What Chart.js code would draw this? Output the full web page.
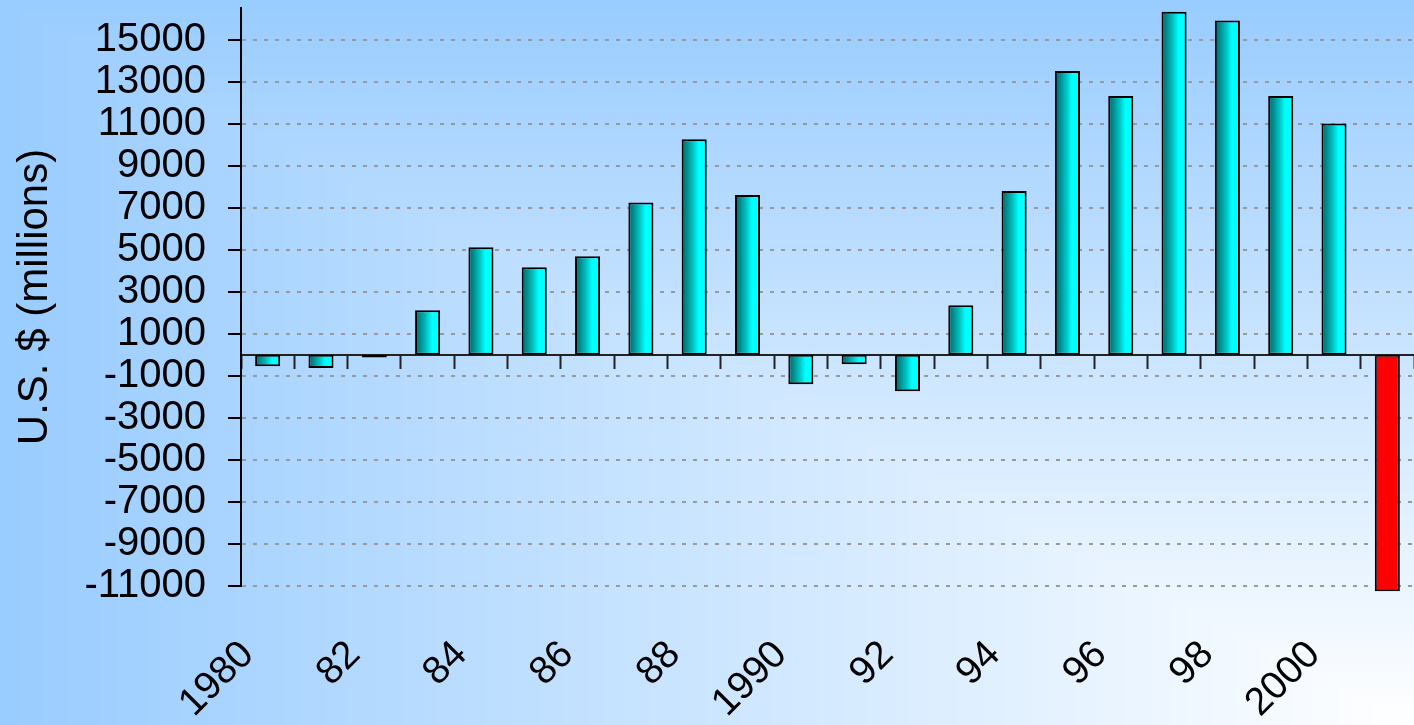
<!DOCTYPE html>
<html>
<head>
<meta charset="utf-8">
<script src="https://cdn.jsdelivr.net/npm/chart.js@4/dist/chart.umd.min.js"></script>
<style>
  html, body { margin: 0; padding: 0; overflow: hidden; }
  #wrap { position: relative; width: 1414px; height: 725px; }
  #wrap canvas { position: absolute; left: 0; top: 0; }
</style>
</head>
<body>
<div id="wrap">
  <canvas id="bg" width="1414" height="725"></canvas>
  <canvas id="myChart" width="1414" height="725"></canvas>
</div>
<script>
// data
const years = ['1980','1981','1982','1983','1984','1985','1986','1987','1988','1989','1990',
               '1991','1992','1993','1994','1995','1996','1997','1998','1999','2000','2001'];
const tickLabels = ['1980','','82','','84','','86','','88','','1990',
                    '','92','','94','','96','','98','','2000',''];
const values = [-550, -630, -130, 2120, 5120, 4170, 4690, 7250, 10260, 7600, -1400,
                -450, -1740, 2360, 7790, 13500, 12310, 16320, 15900, 12310, 11010, -11250];
const yTicks = [-11000, -9000, -7000, -5000, -3000, -1000, 1000, 3000, 5000, 7000, 9000, 11000, 13000, 15000];
const highlightYear = '2001';

const FONT = '"Liberation Sans", Arial, sans-serif';

// corner gradient behind the chart: light blue edges fading to white at bottom right
function paintBackground(){
    const c = document.getElementById('bg');
    const g = c.getContext('2d');
    const W = c.width, H = c.height;
    const img = g.createImageData(W, H);
    const from = [255, 255, 255], to = [153, 204, 255];
    for (let y = 0; y < H; y++){
        for (let x = 0; x < W; x++){
            const t = Math.min(1, Math.max((W - x) / W, (H - y) / H));
            const k = (y * W + x) * 4;
            img.data[k]   = from[0] + (to[0] - from[0]) * t;
            img.data[k+1] = from[1] + (to[1] - from[1]) * t;
            img.data[k+2] = from[2] + (to[2] - from[2]) * t;
            img.data[k+3] = 255;
        }
    }
    g.putImageData(img, 0, 0);
}

const barFill = (ctx)=>{
    const chart = ctx.chart;
    const i = ctx.dataIndex;
    if (i === undefined) return '#00ffff';
    if (years[i] === highlightYear) return '#ff0000';
    const xs = chart.scales.x;
    if (!xs || !xs.width) return '#00ffff';
    const cx = xs.getPixelForValue(i);
    const w = xs.width / years.length * 0.47;
    const grad = chart.ctx.createLinearGradient(cx - w / 2, 0, cx + w / 2, 0);
    grad.addColorStop(0, '#006666');
    grad.addColorStop(0.2, '#008c8c');
    grad.addColorStop(0.45, '#00c4c4');
    grad.addColorStop(0.68, '#00ffff');
    grad.addColorStop(1, '#00ffff');
    return grad;
}

window.addEventListener('DOMContentLoaded', (event) => {
    paintBackground();

    let info = {
        labels: years,
        datasets: [{
            label: 'U.S. $ (millions)',
            data: values,
            backgroundColor: barFill,
            borderColor: '#000000',
            borderWidth: 2,
            borderSkipped: false,
            categoryPercentage: 1,
            barPercentage: 0.47,
            clip: false
        }]
    };

    let config = {
        type: 'bar',
        data: info,
        options: {
            responsive: false,
            animation: false,
            layout: { padding: { left: 10, top: 8, right: 0, bottom: 0 } },
            plugins: { legend: { display: false }, tooltip: { enabled: false } },
            scales: {
                x: {
                    type: 'category',
                    offset: true,
                    grid: { display: false, drawTicks: false },
                    border: { display: false },
                    ticks: {
                        autoSkip: false,
                        maxRotation: 45,
                        minRotation: 45,
                        padding: 46,
                        labelOffset: -20,
                        color: '#000',
                        font: { family: FONT, size: 39 },
                        callback: (v, i) => tickLabels[i]
                    },
                    afterFit: (s) => { s.height = 139; s.paddingLeft = 0; s.paddingRight = 0; }
                },
                x2: {
                    type: 'category',
                    position: { y: 0 },
                    offset: true,
                    grid: {
                        offset: true,
                        drawOnChartArea: false,
                        drawTicks: true,
                        tickLength: 13,
                        tickWidth: 2,
                        tickColor: '#222'
                    },
                    border: { display: true, color: '#222', width: 2 },
                    ticks: { display: false, autoSkip: false },
                    afterFit: (s) => { s.paddingLeft = 0; s.paddingRight = 0; s.paddingTop = 0; s.paddingBottom = 0; }
                },
                y: {
                    min: -11000,
                    max: 16500,
                    afterBuildTicks: (s) => { s.ticks = yTicks.map(v => ({ value: v })); },
                    afterFit: (s) => { s.width = 231; s.paddingTop = 0; s.paddingBottom = 0; },
                    grid: {
                        color: '#999999',
                        lineWidth: 2,
                        drawTicks: true,
                        tickLength: 13,
                        tickColor: '#000',
                        tickWidth: 2,
                        tickBorderDash: []
                    },
                    border: { display: true, color: '#000', width: 2, dash: [4, 7] },
                    ticks: {
                        autoSkip: false,
                        padding: 22,
                        color: '#000',
                        font: { family: FONT, size: 40 },
                        callback: (v) => String(v)
                    },
                    title: {
                        display: true,
                        text: 'U.S. $ (millions)',
                        color: '#000',
                        font: { family: FONT, size: 42 },
                        padding: { top: 0, bottom: 0 }
                    }
                }
            }
        }
    };

    myChart = new Chart(document.getElementById('myChart'), config);
});
var myChart;
</script>
</body>
</html>
